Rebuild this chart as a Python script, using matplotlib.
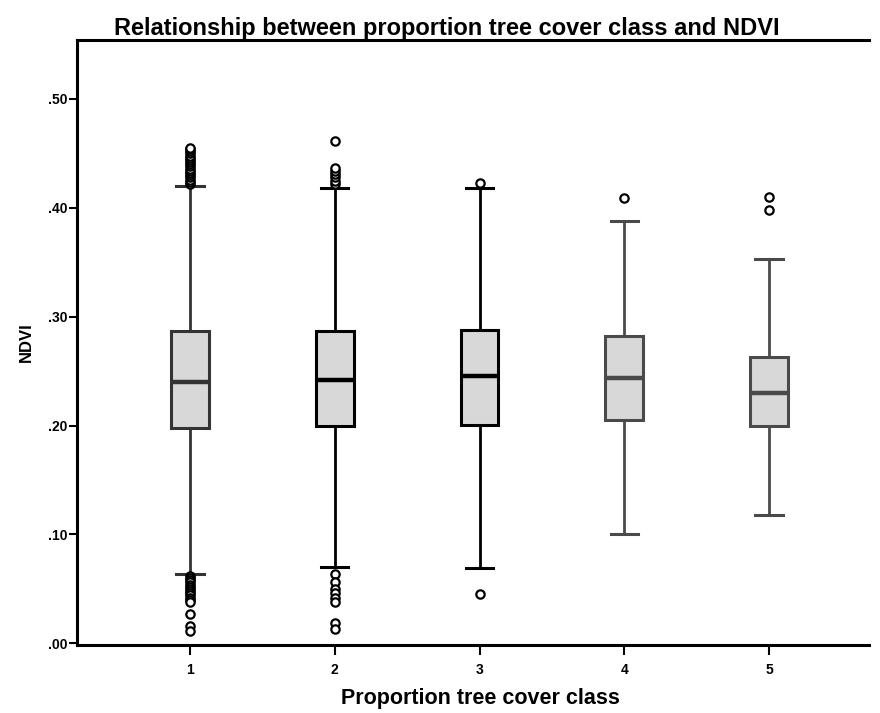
import matplotlib
matplotlib.use("Agg")
import matplotlib.pyplot as plt
from matplotlib.ticker import FuncFormatter

plt.rcParams['font.family'] = ['Liberation Sans', 'DejaVu Sans']

classes = [1, 2, 3, 4, 5]
q1 = [0.198, 0.200, 0.201, 0.2055, 0.200]
med = [0.240, 0.242, 0.246, 0.244, 0.230]
q3 = [0.287, 0.287, 0.288, 0.282, 0.263]
whislo = [0.064, 0.070, 0.069, 0.100, 0.118]
whishi = [0.420, 0.418, 0.418, 0.388, 0.353]
outliers = [
    [0.422, 0.424, 0.426, 0.428, 0.430, 0.432, 0.434, 0.436, 0.438, 0.440,
     0.442, 0.444, 0.446, 0.448, 0.450, 0.452, 0.454, 0.455,
     0.062, 0.060, 0.058, 0.056, 0.054, 0.052, 0.050, 0.048, 0.046, 0.044,
     0.042, 0.040, 0.038, 0.027, 0.016, 0.011],
    [0.422, 0.425, 0.428, 0.431, 0.434, 0.437, 0.461,
     0.064, 0.056, 0.050, 0.046, 0.042, 0.038, 0.019, 0.013],
    [0.423, 0.045],
    [0.409],
    [0.410, 0.398],
]
edge_colors = ['#333333', '#000000', '#000000', '#4a4a4a', '#4a4a4a']

yticks = [0.0, 0.1, 0.2, 0.3, 0.4, 0.5]

fig = plt.figure(figsize=(8.8, 7.13), dpi=100)
ax = fig.add_axes([0.0875, 0.0954, 0.9, 0.849])

for i, c in enumerate(classes):
    st = dict(med=med[i], q1=q1[i], q3=q3[i], whislo=whislo[i], whishi=whishi[i],
              fliers=outliers[i], label=str(c))
    col = edge_colors[i]
    ax.bxp([st], positions=[c], widths=0.26, patch_artist=True,
           boxprops=dict(facecolor='#d8d8d8', edgecolor=col, linewidth=2.2),
           medianprops=dict(color=col, linewidth=3.2),
           whiskerprops=dict(color=col, linewidth=2.0),
           capprops=dict(color=col, linewidth=2.2),
           capwidths=0.19,
           flierprops=dict(marker='o', markersize=6.0, markerfacecolor='white',
                           markeredgecolor='black', markeredgewidth=1.6),
           zorder=3)

ax.set_xlim(0.22, 5.69)
ax.set_ylim(-0.0015, 0.5545)
ax.set_xticks(classes)
ax.set_xticklabels([str(c) for c in classes], fontsize=10, fontweight='bold')
ax.set_yticks(yticks)
ax.yaxis.set_major_formatter(FuncFormatter(lambda v, p: ('%.2f' % v)[1:]))
for lab in ax.get_yticklabels():
    lab.set_fontweight('bold')
ax.tick_params(axis='y', labelsize=10, length=6, width=1.5, pad=1)
ax.tick_params(axis='x', length=7, width=1.5, pad=6)

for s in ['left', 'bottom', 'top']:
    ax.spines[s].set_linewidth(2.2)
ax.spines['right'].set_visible(False)

ax.set_title('Relationship between proportion tree cover class and NDVI',
             fontsize=17, fontweight='bold', pad=3, x=0.467)
ax.set_xlabel('Proportion tree cover class', fontsize=15.5, fontweight='bold',
              labelpad=8, x=0.51)
ax.set_ylabel('NDVI', fontsize=12, fontweight='bold', labelpad=10)

fig.savefig('out.png', dpi=100)
